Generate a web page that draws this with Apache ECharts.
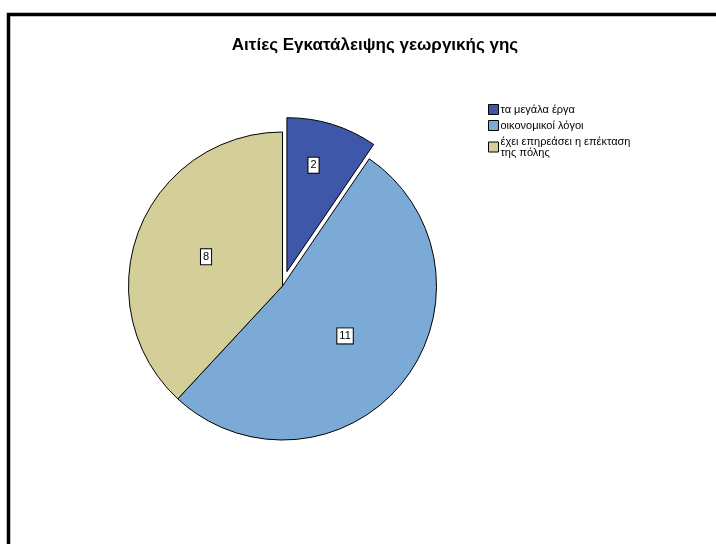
<!DOCTYPE html>
<html>
<head>
<meta charset="utf-8">
<style>
  html, body { margin: 0; padding: 0; background: #fff; }
  #container { width: 716px; height: 544px; }
</style>
<script src="https://cdn.jsdelivr.net/npm/echarts@6/dist/echarts.min.js"></script>
</head>
<body>
<div id="container"></div>
<script>
var categories = ["τα μεγάλα έργα", "οικονομικοί λόγοι", "έχει επηρεάσει η επέκταση\nτης πόλης"];
var counts = [2, 11, 8];
var colors = ["#3E57A9", "#7BAAD7", "#D4CF99"];

var dom = document.getElementById("container");
var myChart = echarts.init(dom, null, { renderer: "canvas" });

var option = {
    backgroundColor: "#ffffff",
    animation: false,
    title: {
        text: "Αιτίες Εγκατάλειψης γεωργικής γης",
        left: 370,
        top: 32,
        textAlign: "center",
        textStyle: {
            fontFamily: "Liberation Sans, Arial, sans-serif",
            fontSize: 17,
            fontWeight: "bold",
            color: "#000"
        }
    },
    legend: {
        orient: "vertical",
        left: 488,
        top: 104,
        padding: 0,
        itemWidth: 10,
        itemHeight: 10,
        itemGap: 5,
        icon: "rect",
        selectedMode: false,
        data: categories.map(function (c, i) {
            return {
                name: c,
                itemStyle: { color: colors[i], borderColor: "#000", borderWidth: 1 }
            };
        }),
        textStyle: {
            fontFamily: "Liberation Sans, Arial, sans-serif",
            fontSize: 11,
            color: "#000",
            padding: [0, 0, 0, -3],
            lineHeight: 11
        }
    },
    graphic: [
        {
            type: "rect",
            shape: { x: 8.5, y: 14.5, width: 800, height: 600 },
            style: { fill: null, stroke: "#000", lineWidth: 3.5 },
            silent: true
        }
    ],
    series: [
        {
            type: "pie",
            center: [282.5, 286],
            radius: 154,
            startAngle: 90,
            clockwise: true,
            selectedMode: "single",
            selectedOffset: 15,
            emphasis: { disabled: true },
            itemStyle: { borderColor: "#000", borderWidth: 1 },
            label: {
                show: true,
                position: "inside",
                formatter: "{c}",
                fontFamily: "Liberation Sans, Arial, sans-serif",
                fontSize: 11,
                color: "#000",
                backgroundColor: "#fff",
                borderColor: "#000",
                borderWidth: 1,
                padding: [2, 2, 2, 2]
            },
            labelLine: { show: false },
            labelLayout: function (params) {
                if (params.dataIndex === 0) {
                    return { dy: -30, dx: 3 };
                }
                if (params.dataIndex === 2) {
                    return { dx: -2 };
                }
                return {};
            },
            data: categories.map(function (c, i) {
                return {
                    name: c,
                    value: counts[i],
                    selected: i === 0,
                    itemStyle: { color: colors[i] }
                };
            })
        }
    ]
};

myChart.setOption(option);
window.addEventListener("resize", myChart.resize);
</script>
</body>
</html>
